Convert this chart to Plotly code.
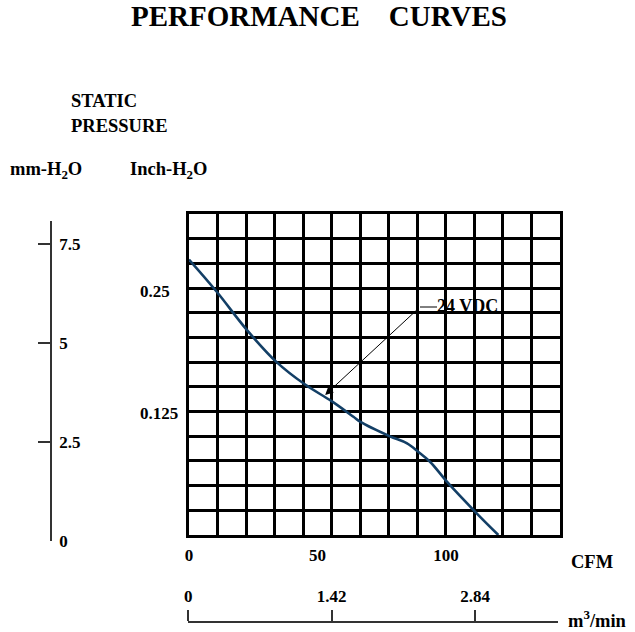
import plotly.graph_objects as go

# ---- data ----
cfm = [0, 10.8, 22.5, 34.1, 45.2, 55.5, 64.0, 66.6, 78.2, 84.7, 89.3, 93.8, 100.9, 111.3, 120.4]
inch_h2o = [0.282, 0.249, 0.210, 0.177, 0.154, 0.137, 0.121, 0.116, 0.101, 0.094, 0.085,
            0.075, 0.053, 0.024, 0.0]
series_name = "24 VDC"
cfm_ticks = [0, 50, 100]
inch_ticks = [0.125, 0.25]
inch_tick_labels = ["0.125", "0.25"]
mm_ticks = [0, 2.5, 5, 7.5]
mm_tick_labels = ["0", "2.5", "5", "7.5"]
m3_ticks = [0, 1.42, 2.84]
m3_tick_labels = ["0", "1.42", "2.84"]
arrow_cfm = 53
arrow_inch = 0.1434

W, H = 635, 632
L, R, T, B = 51, 75, 214, 10
PW = W - L - R
PH = H - T - B


def fx(px):
    return (px - L) / PW


def fy(py):
    return (H - B - py) / PH


FONT = "Liberation Serif"
X_MAX = 144.4
Y_MAX = 0.3286
N_CELLS = 13

fig = go.Figure()
fig.add_trace(go.Scatter(x=cfm, y=inch_h2o, mode="lines", name=series_name,
                         line=dict(color="#133f66", width=2.6, shape="spline", smoothing=1.0),
                         showlegend=False, hoverinfo="skip"))
fig.add_trace(go.Scatter(x=[0], y=[0], xaxis="x", yaxis="y3", mode="markers",
                         marker=dict(opacity=0), showlegend=False, hoverinfo="skip"))
fig.add_trace(go.Scatter(x=[0], y=[0], xaxis="x2", yaxis="y2", mode="markers",
                         marker=dict(opacity=0), showlegend=False, hoverinfo="skip"))

tick_font = dict(family=FONT, size=17, color="black")

fig.update_layout(
    width=W, height=H,
    margin=dict(l=L, r=R, t=T, b=B, autoexpand=False),
    paper_bgcolor="white", plot_bgcolor="rgba(0,0,0,0)",
    showlegend=False,
    xaxis=dict(domain=[fx(189), 1], range=[0, X_MAX], anchor="y",
               tickvals=cfm_ticks, ticktext=[f"<b>{v}</b>" for v in cfm_ticks],
               ticks="", showgrid=False, zeroline=False,
               showline=True, mirror=True, linecolor="black", linewidth=3,
               tickfont=tick_font, ticklabelstandoff=3,
               minor=dict(tick0=0, dtick=X_MAX / N_CELLS, showgrid=True,
                          gridcolor="black", gridwidth=2.6),
               automargin=False),
    yaxis=dict(domain=[fy(535), 1], range=[0, Y_MAX], anchor="x",
               showticklabels=False, ticks="", showgrid=False, zeroline=False,
               showline=True, mirror=True, linecolor="black", linewidth=3,
               minor=dict(tick0=0, dtick=Y_MAX / N_CELLS, showgrid=True,
                          gridcolor="black", gridwidth=2.6),
               automargin=False),
    yaxis3=dict(overlaying="y", range=[0, Y_MAX], anchor="free", position=fx(139),
                side="right", showline=False, ticks="", showgrid=False, zeroline=False,
                tickvals=inch_ticks, ticktext=[f"<b>{t}</b>" for t in inch_tick_labels],
                tickfont=tick_font, ticklabelstandoff=0, automargin=False),
    yaxis2=dict(domain=[fy(540.7), fy(220.7)], range=[0, 8.08], anchor="free",
                position=0, side="right", showline=True, linecolor="#333", linewidth=1.5,
                ticks="inside", ticklen=12, tickwidth=1.5, tickcolor="#333",
                tickvals=mm_ticks, ticktext=[f"<b>{t}</b>" for t in mm_tick_labels],
                tickfont=tick_font, showgrid=False, zeroline=False,
                ticklabelstandoff=4, automargin=False),
    xaxis2=dict(domain=[fx(188.3), fx(558)], range=[0, 3.661], anchor="free",
                position=0, side="top", showline=True, linecolor="#333", linewidth=1.5,
                ticks="outside", ticklen=11, tickwidth=1.5, tickcolor="#333",
                tickvals=m3_ticks, ticktext=[f"<b>{t}</b>" for t in m3_tick_labels],
                tickfont=tick_font, showgrid=False, zeroline=False,
                ticklabelstandoff=1, automargin=False),
)


def label(text, px, py, size=18.5, xanchor="left"):
    fig.add_annotation(text=text, x=fx(px), y=fy(py), xref="paper", yref="paper",
                       xanchor=xanchor, yanchor="middle", showarrow=False,
                       font=dict(family=FONT, size=size, color="black"))


label("<b>PERFORMANCE&nbsp;&nbsp;&nbsp;&nbsp;CURVES</b>", 319, 16, size=29, xanchor="center")
label("<b>STATIC</b>", 69, 101)
label("<b>PRESSURE</b>", 69, 126)
label("<b>mm-H<sub>2</sub>O</b>", 8, 171)
label("<b>Inch-H<sub>2</sub>O</b>", 128, 171)
label("<b>CFM</b>", 569, 562)
label("<b>m<sup>3</sup>/min</b>", 566, 619)

# 24 VDC leader and label
tail_x = (420 - 189) / (560 - 189) * X_MAX
tail_y = (535 - 307) / (535 - 214) * Y_MAX
bend_x = (437 - 189) / (560 - 189) * X_MAX
fig.add_annotation(x=arrow_cfm, y=arrow_inch, ax=tail_x, ay=tail_y,
                   xref="x", yref="y", axref="x", ayref="y", text="",
                   showarrow=True, arrowhead=2, arrowsize=1.6, arrowwidth=1,
                   arrowcolor="black", standoff=0)
fig.add_shape(type="line", x0=tail_x, y0=tail_y, x1=bend_x, y1=tail_y,
              xref="x", yref="y", line=dict(color="black", width=1))
fig.add_annotation(x=bend_x, y=tail_y, xref="x", yref="y", text=f"<b>{series_name}</b>",
                   xanchor="left", yanchor="middle", showarrow=False, xshift=-2, yshift=1,
                   font=dict(family=FONT, size=18, color="black"))

fig.write_html("out.html", config={"displayModeBar": False},
               post_script="document.body.style.margin='0px';")
